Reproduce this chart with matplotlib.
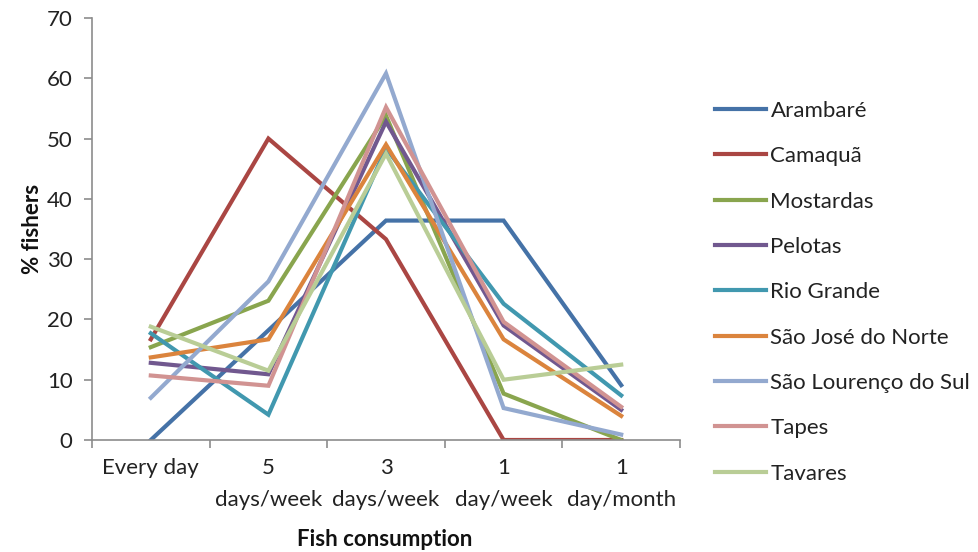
import matplotlib
matplotlib.use("Agg")
import matplotlib.pyplot as plt
from matplotlib.ticker import FixedLocator, NullFormatter

plt.rcParams['font.family'] = ['Lato', 'DejaVu Sans']

categories = ["Every day", "5\ndays/week", "3\ndays/week", "1\nday/week", "1\nday/month"]

arambare = [0.0, 18.2, 36.4, 36.4, 9.1]
camaqua = [16.7, 50.0, 33.3, 0.0, 0.0]
mostardas = [15.4, 23.1, 53.8, 7.7, 0.0]
pelotas = [12.8, 10.9, 52.8, 19.0, 5.0]
rio_grande = [17.7, 4.2, 48.4, 22.6, 7.4]
sao_jose = [13.7, 16.7, 49.0, 16.7, 4.0]
sao_lourenco = [7.0, 26.3, 60.8, 5.3, 0.9]
tapes = [10.7, 9.0, 55.2, 19.6, 5.5]
tavares = [18.8, 11.5, 47.5, 10.0, 12.5]

series = [
    ("Arambaré", arambare, "#4572A7"),
    ("Camaquã", camaqua, "#AA4643"),
    ("Mostardas", mostardas, "#89A54E"),
    ("Pelotas", pelotas, "#71588F"),
    ("Rio Grande", rio_grande, "#4198AF"),
    ("São José do Norte", sao_jose, "#DB843D"),
    ("São Lourenço do Sul", sao_lourenco, "#93A9CF"),
    ("Tapes", tapes, "#D19392"),
    ("Tavares", tavares, "#B9CD96"),
]

FS = 16

W, H = 979, 552
fig = plt.figure(figsize=(W / 100, H / 100), dpi=100)
ax = fig.add_axes([92 / W, 1 - 440 / H, (680 - 92) / W, (440 - 18) / H])

x = list(range(len(categories)))
handles = []
for name, vals, col in series:
    h, = ax.plot(x, vals, color=col, lw=3.0, label=name, solid_joinstyle='miter')
    handles.append(h)

ax.set_xlim(-0.5, len(categories) - 0.5)
ax.set_ylim(0, 70)
ax.set_yticks(range(0, 71, 10))

# category boundaries carry the tick marks, centres carry the labels
ax.xaxis.set_major_locator(FixedLocator([i - 0.5 for i in range(len(categories) + 1)]))
ax.xaxis.set_major_formatter(NullFormatter())
ax.xaxis.set_minor_locator(FixedLocator(x))
ax.set_xticklabels(categories, minor=True)
ax.tick_params(axis='x', which='minor', length=0, pad=13, labelsize=FS,
               labelcolor='#222222')
ax.tick_params(axis='x', which='major', length=6, color='#8c8c8c', width=1.2)
ax.tick_params(axis='y', length=6, color='#8c8c8c', width=1.2, labelsize=FS,
               pad=8, labelcolor='#222222')
for lbl in ax.get_xticklabels(minor=True):
    lbl.set_linespacing(1.75)

for s in ['top', 'right']:
    ax.spines[s].set_visible(False)
for s in ['left', 'bottom']:
    ax.spines[s].set_color('#8c8c8c')
    ax.spines[s].set_linewidth(1.2)

ax.set_ylabel("% fishers", fontsize=FS, fontweight='bold', labelpad=3,
              color='#111111')
fig.text(385 / W, 1 - 540 / H, "Fish consumption", ha='center', va='center',
         fontsize=FS, fontweight='bold', color='#111111')

fig.legend(handles=handles, loc='upper left',
           bbox_to_anchor=(706 / W, 1 - 92 / H), frameon=False,
           fontsize=FS, handlelength=2.3, handletextpad=0.2,
           labelspacing=1.14, borderaxespad=0, labelcolor='#222222')

fig.savefig("out.png", dpi=100)
